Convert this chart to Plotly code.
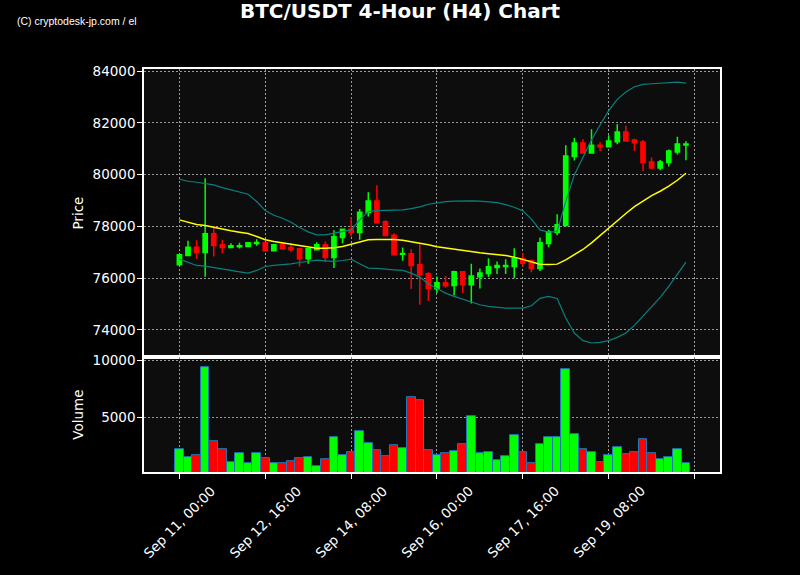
import pandas as pd
import plotly.graph_objects as go
from plotly.subplots import make_subplots

# ---- data (4-hour candles) ----
times = pd.date_range("2025-09-11 00:00", periods=60, freq="4h")

opens = [76517, 76877, 77199, 76993, 77713, 77289, 77186, 77211, 77224, 77340,
         77366, 77057, 77289, 77186, 77134, 76749, 77096, 77289, 76800, 77571,
         77893, 77764, 78536, 78986, 78176, 77661, 76929, 76942, 76517, 76170,
         75591, 75823, 75720, 76247, 75746, 76054, 76183, 76414, 76453, 76453,
         76749, 76671, 76376, 77340, 77764, 78034, 80696, 81223, 80837, 81133,
         81081, 81274, 81647, 81339, 81261, 80490, 80259, 80464, 80876, 81146]
highs = [76930, 77443, 77469, 79860, 78021, 77481, 77353, 77366, 77390, 77507,
         77380, 77300, 77353, 77353, 77140, 77150, 77391, 77417, 77854, 77920,
         78356, 78677, 79320, 79590, 78240, 77740, 77186, 77122, 77314, 76234,
         76067, 76080, 76286, 76260, 76556, 76376, 76774, 76646, 76736, 77160,
         76967, 76736, 77571, 77867, 78471, 81133, 81416, 81364, 81750, 81249,
         81519, 81943, 81891, 81390, 81339, 80657, 80567, 80966, 81467, 81287]
lows = [76490, 76860, 76749, 76054, 76839, 76967, 77170, 77147, 77210, 77250,
        77030, 77050, 77100, 77018, 76453, 76556, 77080, 76620, 76389, 77353,
        77610, 77481, 78380, 78130, 77640, 76877, 76671, 75579, 74974, 75129,
        75424, 75643, 75334, 75424, 75026, 75604, 76041, 76157, 76157, 76003,
        76453, 76234, 76273, 77199, 77661, 78030, 80541, 80830, 80830, 80914,
        81056, 81171, 81290, 80914, 80143, 80207, 80169, 80310, 80773, 80554]
closes = [76903, 77199, 76993, 77713, 77263, 77186, 77250, 77250, 77366, 77378,
          77057, 77289, 77134, 77096, 76749, 77134, 77289, 76800, 77597, 77893,
          77764, 78549, 78986, 78137, 77649, 76903, 76955, 76492, 76131, 75604,
          75823, 75707, 76247, 75746, 76080, 76196, 76440, 76491, 76491, 76749,
          76581, 76376, 77366, 77790, 78060, 80721, 81223, 80837, 81133, 81081,
          81300, 81647, 81300, 81236, 80464, 80259, 80490, 80914, 81184, 81184]

sma20 = [78253, 78163, 78073, 78034, 77957, 77880, 77829, 77777, 77726, 77610,
         77482, 77417, 77366, 77302, 77250, 77199, 77160, 77160, 77173, 77224,
         77314, 77392, 77482, 77495, 77507, 77495, 77469, 77417, 77366, 77289,
         77212, 77160, 77122, 77070, 77019, 76980, 76942, 76916, 76877, 76813,
         76723, 76607, 76543, 76530, 76543, 76710, 76903, 77109, 77366, 77649,
         77932, 78240, 78497, 78767, 78986, 79192, 79359, 79552, 79783, 80053]
bb_upper = [79821, 79744, 79706, 79667, 79603, 79500, 79423, 79346, 79243, 78960,
            78613, 78433, 78317, 78163, 77957, 77790, 77674, 77674, 77739, 77803,
            77867, 78253, 78574, 78613, 78613, 78626, 78639, 78690, 78754, 78857,
            78909, 78960, 78973, 78986, 78986, 78973, 78934, 78921, 78844, 78742,
            78600, 78279, 77867, 77777, 77803, 78960, 79989, 80696, 81339, 81917,
            82470, 82907, 83190, 83396, 83486, 83511, 83537, 83576, 83576, 83537]
bb_lower = [76736, 76620, 76492, 76466, 76402, 76350, 76299, 76247, 76196, 76299,
            76453, 76492, 76517, 76556, 76607, 76646, 76697, 76671, 76646, 76684,
            76736, 76556, 76389, 76376, 76363, 76324, 76299, 76196, 76042, 75784,
            75604, 75424, 75296, 75193, 75064, 74974, 74910, 74872, 74846, 74846,
            74846, 74936, 75219, 75296, 75219, 74460, 73882, 73586, 73496, 73522,
            73586, 73714, 73882, 74177, 74524, 74884, 75257, 75682, 76132, 76620]

volumes = [2193, 1491, 1667, 9386, 2895, 2193, 1023, 1842, 936, 1842,
           1404, 936, 936, 1140, 1404, 1491, 702, 1316, 3246, 1667,
           1930, 3772, 2719, 2105, 1579, 2544, 2281, 6754, 6491, 2105,
           1667, 1842, 2017, 2632, 5088, 1842, 1930, 1228, 1579, 3421,
           1930, 965, 2632, 3246, 3246, 9211, 3509, 2193, 1930, 1053,
           1667, 2368, 1754, 1930, 3070, 1842, 1316, 1491, 2193, 965]

tick_vals = ["2025-09-11 00:00", "2025-09-12 16:00", "2025-09-14 08:00",
             "2025-09-16 00:00", "2025-09-17 16:00", "2025-09-19 08:00",
             "2025-09-21 00:00"]
tick_text = ["Sep 11, 00:00", "Sep 12, 16:00", "Sep 14, 08:00",
             "Sep 16, 00:00", "Sep 17, 16:00", "Sep 19, 08:00", ""]

UP = "#00ff00"
DOWN = "#ff0000"
vol_colors = [UP if c >= o else DOWN for o, c in zip(opens, closes)]

fig = make_subplots(rows=2, cols=1, shared_xaxes=True, vertical_spacing=0,
                    row_heights=[0.715, 0.285])

fig.add_trace(go.Scatter(x=times, y=bb_upper, mode="lines",
                         line=dict(color="#0b7f7f", width=1.2), hoverinfo="skip"),
              row=1, col=1)
fig.add_trace(go.Scatter(x=times, y=bb_lower, mode="lines",
                         line=dict(color="#0b7f7f", width=1.2), hoverinfo="skip"),
              row=1, col=1)
fig.add_trace(go.Scatter(x=times, y=sma20, mode="lines",
                         line=dict(color="#ffff00", width=1.5)),
              row=1, col=1)
fig.add_trace(go.Candlestick(x=times, open=opens, high=highs, low=lows, close=closes,
                             increasing=dict(line=dict(color=UP, width=1.5), fillcolor=UP),
                             decreasing=dict(line=dict(color=DOWN, width=1.5), fillcolor=DOWN)),
              row=1, col=1)
fig.add_trace(go.Bar(x=times, y=volumes, marker=dict(color=vol_colors,
                                                     line=dict(color="#1f77b4", width=1))),
              row=2, col=1)

font_family = "DejaVu Sans"
grid_dash = "1.5px,2.5px"
axis_common = dict(showline=True, linecolor="white", linewidth=1.5, mirror=True,
                   showgrid=True, gridcolor="#9a9a9a", griddash=grid_dash, gridwidth=1,
                   zeroline=False, tickfont=dict(color="white", size=13.5, family=font_family))

fig.update_xaxes(**axis_common, type="date",
                 range=["2025-09-10 07:30", "2025-09-21 11:52"],
                 tickvals=tick_vals, ticktext=tick_text, rangeslider_visible=False,
                 showticklabels=False)
fig.update_xaxes(ticks="", row=1, col=1)
fig.update_xaxes(ticks="outside", ticklen=5, tickcolor="white", row=2, col=1)

fig.update_yaxes(**axis_common, ticks="outside", ticklen=5, tickcolor="white",
                 tickformat="d", ticklabelstandoff=-1)
fig.update_yaxes(range=[72950, 84080], dtick=2000,
                 title=dict(text="Price", standoff=6,
                            font=dict(color="white", size=13.5, family=font_family)),
                 row=1, col=1)
fig.update_yaxes(range=[200, 10290], tickvals=[5000, 10000],
                 title=dict(text="Volume", standoff=6,
                            font=dict(color="white", size=13.5, family=font_family)),
                 row=2, col=1)

# rotated, centred x tick labels (placed at the tick dates)
annotations = [dict(text="(C) cryptodesk-jp.com / el", xref="paper", yref="paper",
                    x=-0.224, y=1.119, xanchor="left", yanchor="middle", showarrow=False,
                    font=dict(size=10.5, color="white", family="Liberation Sans"))]
for tv, tt in zip(tick_vals, tick_text):
    if tt:
        annotations.append(dict(text=tt, x=tv, xref="x2", y=-0.124, yref="paper",
                                xanchor="center", yanchor="middle", textangle=-45,
                                showarrow=False,
                                font=dict(size=13.5, color="white", family=font_family)))

fig.update_layout(
    width=800, height=575,
    paper_bgcolor="#000000", plot_bgcolor="#0d0d0d",
    margin=dict(l=144, r=80, t=69, b=103),
    showlegend=False, bargap=0,
    font=dict(family=font_family, color="white"),
    title=dict(text="<b>BTC/USDT 4-Hour (H4) Chart</b>", x=0.5, xanchor="center",
               y=0.981, yanchor="middle", yref="container",
               font=dict(size=20, color="white", family=font_family)),
    annotations=annotations,
)

fig.write_html("out.html", config={"displayModeBar": False},
               post_script="document.body.style.margin='0';document.body.style.background='#000';")
